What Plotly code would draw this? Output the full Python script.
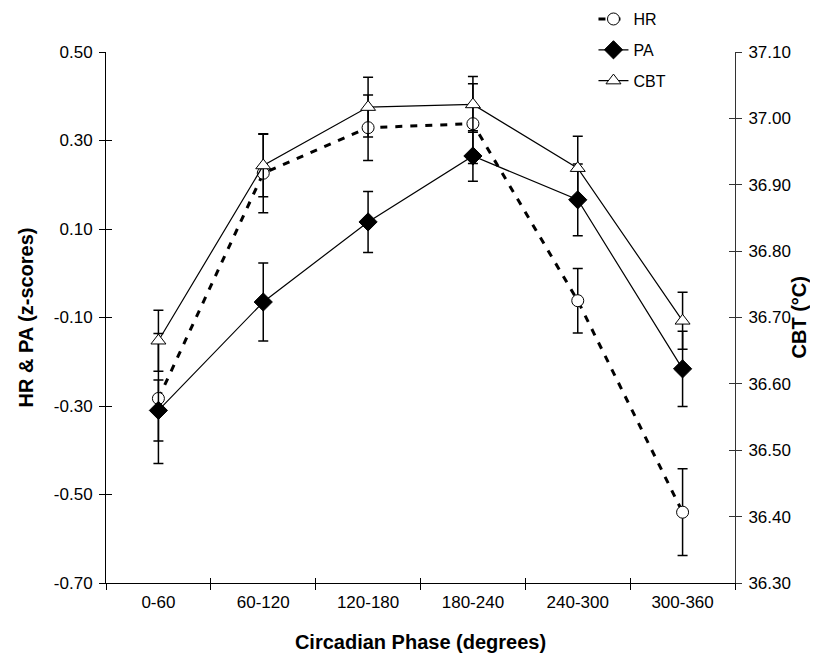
import plotly.graph_objects as go

# ---- data ----
categories = ["0-60", "60-120", "120-180", "180-240", "240-300", "300-360"]

hr_mean = [-0.283, 0.226, 0.329, 0.338, -0.062, -0.540]
hr_err = [0.147, 0.089, 0.074, 0.090, 0.073, 0.098]

pa_mean = [-0.310, -0.065, 0.116, 0.265, 0.166, -0.216]
pa_err = [0.069, 0.088, 0.069, 0.057, 0.081, 0.085]

cbt_mean = [36.665, 36.929, 37.017, 37.021, 36.925, 36.695]
cbt_err = [0.046, 0.047, 0.045, 0.042, 0.048, 0.043]

left_tickvals = [-0.70, -0.50, -0.30, -0.10, 0.10, 0.30, 0.50]
left_ticktext = ["-0.70", "-0.50", "-0.30", "-0.10", "0.10", "0.30", "0.50"]
right_tickvals = [36.30, 36.40, 36.50, 36.60, 36.70, 36.80, 36.90, 37.00, 37.10]
right_ticktext = ["36.30", "36.40", "36.50", "36.60", "36.70", "36.80", "36.90", "37.00", "37.10"]

x_title = "Circadian Phase (degrees)"
left_title = "HR & PA (z-scores)"
right_title = "CBT (°C)"

FONT = "Liberation Sans, Arial, Helvetica, sans-serif"
TICK_SIZE = 17
LEGEND_SIZE = 16
TITLE_SIZE = 20

left_range = [left_tickvals[0], left_tickvals[-1]]
right_range = [right_tickvals[0], right_tickvals[-1]]
boundaries = [i - 0.5 for i in range(len(categories) + 1)]

fig = go.Figure()

fig.add_trace(go.Scatter(
    x=categories, y=hr_mean, name="HR", mode="lines+markers", legendgroup="hr",
    line=dict(color="black", width=3, dash="7px,8px"),
    marker=dict(symbol="circle", size=12, color="white", line=dict(color="black", width=1)),
    error_y=dict(type="data", array=hr_err, color="black", thickness=1.5, width=5),
))
fig.add_trace(go.Scatter(
    x=categories, y=pa_mean, name="PA", mode="lines+markers", legendgroup="pa",
    line=dict(color="black", width=1.2),
    marker=dict(symbol="diamond", size=14, color="black", line=dict(color="black", width=1)),
    error_y=dict(type="data", array=pa_err, color="black", thickness=1.5, width=5),
))
fig.add_trace(go.Scatter(
    x=categories, y=cbt_mean, name="CBT", mode="lines+markers", legendgroup="cbt",
    yaxis="y2",
    line=dict(color="black", width=1.2),
    marker=dict(symbol="triangle-up", size=13, color="white", line=dict(color="black", width=1)),
    error_y=dict(type="data", array=cbt_err, color="black", thickness=1.5, width=5),
))

# empty helper traces so the inward tick halves (crossing ticks) get drawn
fig.add_trace(go.Scatter(x=[], y=[], xaxis="x2", yaxis="y3", showlegend=False, hoverinfo="skip"))
fig.add_trace(go.Scatter(x=[], y=[], xaxis="x2", yaxis="y4", showlegend=False, hoverinfo="skip"))

title_font = dict(family=FONT, size=TITLE_SIZE, color="black", weight="bold")

fig.update_layout(
    template="none",
    width=818, height=657,
    margin=dict(l=98, r=91, t=44, b=82, pad=0, autoexpand=False),
    paper_bgcolor="white", plot_bgcolor="white",
    font=dict(family=FONT, size=TICK_SIZE, color="black"),
    showlegend=True,
    legend=dict(
        xref="paper", yref="paper",
        x=0.775, y=1.094, xanchor="left", yanchor="top",
        bgcolor="rgba(0,0,0,0)", borderwidth=0,
        font=dict(family=FONT, size=LEGEND_SIZE, color="black"),
        tracegroupgap=7,
    ),
    xaxis=dict(
        type="category", range=[boundaries[0], boundaries[-1]],
        showline=True, linecolor="black", linewidth=1, mirror=False,
        ticks="outside", ticklen=6, tickwidth=1, tickcolor="black",
        tickson="boundaries", showgrid=False, zeroline=False,
        tickfont=dict(family=FONT, size=TICK_SIZE, color="black"),
        ticklabelstandoff=4,
        title=dict(text=x_title, standoff=23, font=title_font),
        automargin=False,
    ),
    xaxis2=dict(
        overlaying="x", range=[boundaries[0], boundaries[-1]], anchor="y",
        tickmode="array", tickvals=boundaries, ticks="inside", ticklen=5,
        tickwidth=1, tickcolor="black", showticklabels=False,
        showline=False, showgrid=False, zeroline=False, automargin=False,
    ),
    yaxis=dict(
        range=left_range, tickmode="array", tickvals=left_tickvals, ticktext=left_ticktext,
        showline=True, linecolor="black", linewidth=1,
        ticks="outside", ticklen=6, tickwidth=1, tickcolor="black",
        showgrid=False, zeroline=False, ticklabelstandoff=3,
        tickfont=dict(family=FONT, size=TICK_SIZE, color="black"),
        automargin=False,
    ),
    yaxis2=dict(
        overlaying="y", side="right", anchor="x",
        range=right_range, tickmode="array", tickvals=right_tickvals, ticktext=right_ticktext,
        showline=True, linecolor="#333333", linewidth=1,
        ticks="outside", ticklen=6, tickwidth=1, tickcolor="#333333",
        showgrid=False, zeroline=False, ticklabelstandoff=3,
        tickfont=dict(family=FONT, size=TICK_SIZE, color="black"),
        automargin=False,
    ),
    yaxis3=dict(
        overlaying="y", anchor="x", range=left_range,
        tickmode="array", tickvals=left_tickvals, ticks="inside", ticklen=6,
        tickwidth=1, tickcolor="black", showticklabels=False,
        showline=False, showgrid=False, zeroline=False, automargin=False,
    ),
    yaxis4=dict(
        overlaying="y", side="right", anchor="x", range=right_range,
        tickmode="array", tickvals=right_tickvals, ticks="inside", ticklen=6,
        tickwidth=1, tickcolor="#333333", showticklabels=False,
        showline=False, showgrid=False, zeroline=False, automargin=False,
    ),
    annotations=[
        dict(text=left_title, xref="paper", yref="paper", x=0, y=0.5,
             xanchor="center", yanchor="middle", xshift=-81, textangle=-90,
             showarrow=False, font=title_font),
        dict(text=right_title, xref="paper", yref="paper", x=1, y=0.5,
             xanchor="center", yanchor="middle", xshift=63, textangle=-90,
             showarrow=False, font=title_font),
    ],
)

fig.write_html("out.html")
